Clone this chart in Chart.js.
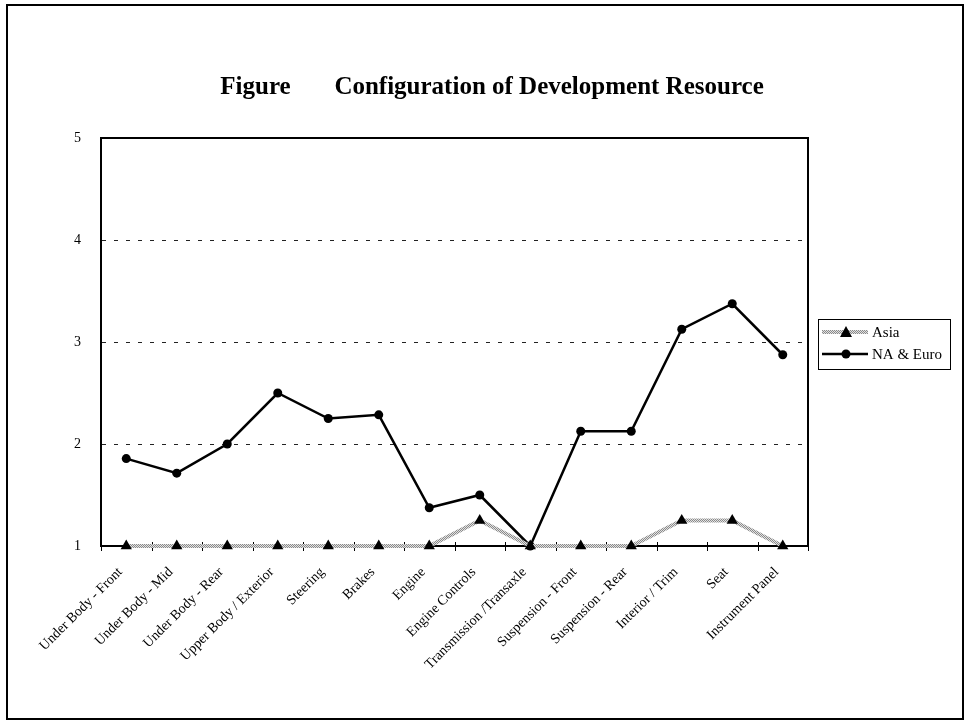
<!DOCTYPE html>
<html>
<head>
<meta charset="utf-8">
<script src="https://cdn.jsdelivr.net/npm/chart.js@4.4.0/dist/chart.umd.min.js"></script>
<style>
  html, body { margin: 0; padding: 0; background: #fff; }
  #wrap { position: relative; width: 966px; height: 723px; }
  #frame {
    position: absolute; left: 6px; top: 4px; width: 958px; height: 716px;
    box-sizing: border-box; border: 2px solid #000; pointer-events: none;
  }
</style>
</head>
<body>
<div id="wrap">
  <canvas id="resourceChart" width="966" height="723"></canvas>
  <div id="frame"></div>
</div>
<script>
const categories = [
  'Under Body - Front', 'Under Body - Mid', 'Under Body - Rear', 'Upper Body / Exterior',
  'Steering', 'Brakes', 'Engine', 'Engine Controls', 'Transmission /Transaxle',
  'Suspension - Front', 'Suspension - Rear', 'Interior / Trim', 'Seat', 'Instrument Panel'
];
const asiaValues   = [1, 1, 1, 1, 1, 1, 1, 1.25, 1, 1, 1, 1.25, 1.25, 1];
const naEuroValues = [1.857, 1.714, 2, 2.5, 2.25, 2.286, 1.375, 1.5, 1, 2.125, 2.125, 3.125, 3.375, 2.875];
const yTicks = [1, 2, 3, 4, 5];
const chartTitle = 'Figure       Configuration of Development Resource';

const SERIF = "'Liberation Serif', 'Times New Roman', serif";

// checkered grey stroke for the Asia series
function hatch() {
  const c = document.createElement('canvas');
  c.width = 2; c.height = 2;
  const g = c.getContext('2d');
  g.fillStyle = '#e2e2e2'; g.fillRect(0, 0, 2, 2);
  g.fillStyle = '#8a8a8a'; g.fillRect(0, 0, 1, 1); g.fillRect(1, 1, 1, 1);
  return g.createPattern(c, 'repeat');
}
const asiaStroke = hatch();

// title centred on the page rather than on the plot
const pageTitle = {
  id: 'pageTitle',
  afterDraw(chart) {
    const ctx = chart.ctx;
    ctx.save();
    ctx.fillStyle = '#000';
    ctx.font = 'bold 25px ' + SERIF;
    ctx.textAlign = 'center';
    ctx.textBaseline = 'middle';
    ctx.fillText(chartTitle, 492, 88);
    ctx.restore();
  }
};

// plot frame + small tick marks crossing the category axis
const frameAndTicks = {
  id: 'frameAndTicks',
  beforeDatasetsDraw(chart) {
    const { ctx, chartArea: a, scales } = chart;
    ctx.save();
    ctx.strokeStyle = '#000';
    ctx.lineWidth = 2;
    ctx.strokeRect(a.left, a.top, a.right - a.left, a.bottom - a.top);
    ctx.lineWidth = 1;
    ctx.beginPath();
    for (let i = 0; i <= categories.length; i++) {
      const x = Math.round(scales.x.getPixelForValue(i - 0.5)) + 0.5;
      ctx.moveTo(x, a.bottom - 4);
      ctx.lineTo(x, a.bottom + 5);
    }
    ctx.stroke();
    ctx.restore();
  }
};

// boxed legend with line samples and markers
const boxLegend = {
  id: 'boxLegend',
  afterDraw(chart) {
    const ctx = chart.ctx;
    const x0 = 818, y0 = 319, w = 132, h = 50;
    ctx.save();
    ctx.fillStyle = '#fff';
    ctx.fillRect(x0, y0, w, h);
    ctx.strokeStyle = '#000';
    ctx.lineWidth = 1;
    ctx.strokeRect(x0 + 0.5, y0 + 0.5, w, h);
    ctx.font = '15px ' + SERIF;
    ctx.textBaseline = 'middle';
    chart.data.datasets.forEach((ds, i) => {
      const y = y0 + 13 + i * 22;
      ctx.strokeStyle = ds.borderColor;
      ctx.lineWidth = ds.borderWidth;
      ctx.beginPath();
      ctx.moveTo(x0 + 4, y);
      ctx.lineTo(x0 + 50, y);
      ctx.stroke();
      ctx.fillStyle = '#000';
      ctx.beginPath();
      if (ds.pointStyle === 'triangle') {
        ctx.moveTo(x0 + 28, y - 6);
        ctx.lineTo(x0 + 34, y + 5);
        ctx.lineTo(x0 + 22, y + 5);
        ctx.closePath();
      } else {
        ctx.arc(x0 + 28, y, 4.5, 0, Math.PI * 2);
      }
      ctx.fill();
      ctx.fillText(ds.label, x0 + 54, y + 1);
    });
    ctx.restore();
  }
};

const ctx = document.getElementById('resourceChart').getContext('2d');
const resourceChart = new Chart(ctx, {
  type: 'line',
  data: {
    labels: categories,
    datasets: [{
      label: 'Asia',
      data: asiaValues,
      borderColor: asiaStroke,
      borderWidth: 4,
      pointStyle: 'triangle',
      pointRadius: 6.5,
      pointBackgroundColor: '#000',
      pointBorderColor: '#000',
      pointBorderWidth: 0,
      tension: 0,
      clip: false
    }, {
      label: 'NA & Euro',
      data: naEuroValues,
      borderColor: '#000',
      borderWidth: 2.5,
      pointStyle: 'circle',
      pointRadius: 4.5,
      pointBackgroundColor: '#000',
      pointBorderColor: '#000',
      pointBorderWidth: 0,
      tension: 0,
      clip: false
    }]
  },
  options: {
    responsive: false,
    animation: false,
    layout: { padding: { top: 138, left: 61, right: 158, bottom: 30 } },
    plugins: {
      legend: { display: false },
      tooltip: { enabled: false },
      title: { display: false }
    },
    scales: {
      x: {
        offset: true,
        grid: { display: false },
        border: { display: true, color: '#000', width: 2 },
        ticks: {
          color: '#000',
          font: { family: SERIF, size: 14 },
          minRotation: 45,
          maxRotation: 45,
          autoSkip: false,
          padding: 10,
          labelOffset: -6
        },
        afterFit(scale) { scale.height = 147; }
      },
      y: {
        min: 1,
        max: 5,
        afterBuildTicks(scale) { scale.ticks = yTicks.map(v => ({ value: v })); },
        grid: {
          color: c => (c.tick && (c.tick.value === 1 || c.tick.value === 5)) ? 'rgba(0,0,0,0)' : '#222',
          lineWidth: 1,
          drawTicks: false
        },
        border: { display: true, color: '#000', width: 2, dash: [4, 8] },
        ticks: {
          color: '#000',
          font: { family: SERIF, size: 14 },
          padding: 20
        },
        afterFit(scale) { scale.width = 40; }
      }
    }
  },
  plugins: [frameAndTicks, pageTitle, boxLegend]
});
</script>
</body>
</html>
